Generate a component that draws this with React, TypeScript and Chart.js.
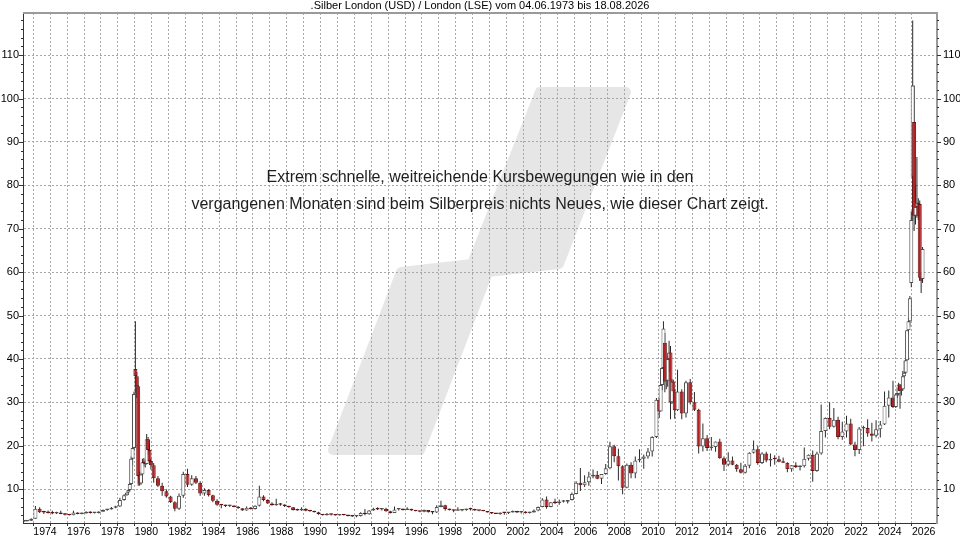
import { useEffect, useRef } from 'react';
import { Chart, registerables } from 'chart.js';

Chart.register(...registerables);

const FONT = '"Liberation Sans", Arial, sans-serif';
const TITLE = '.Silber London (USD) / London (LSE) vom 04.06.1973 bis 18.08.2026';
const NOTE_LINES = [
  'Extrem schnelle, weitreichende Kursbewegungen wie in den',
  'vergangenen Monaten sind beim Silberpreis nichts Neues, wie dieser Chart zeigt.',
];

const periods = [
  '1973-06', '1973-Q3', '1973-Q4',
  '1974-Q1', '1974-Q2', '1974-Q3', '1974-Q4',
  '1975-Q1', '1975-Q2', '1975-Q3', '1975-Q4',
  '1976-Q1', '1976-Q2', '1976-Q3', '1976-Q4',
  '1977-Q1', '1977-Q2', '1977-Q3', '1977-Q4',
  '1978-Q1', '1978-Q2', '1978-Q3', '1978-Q4',
  '1979-Q1', '1979-Q2', '1979-07', '1979-08', '1979-09', '1979-10', '1979-11', '1979-12',
  '1980-01', '1980-02', '1980-03', '1980-04', '1980-05', '1980-06', '1980-07', '1980-08', '1980-09', '1980-10', '1980-11', '1980-12',
  '1981-Q1', '1981-Q2', '1981-Q3', '1981-Q4',
  '1982-Q1', '1982-Q2', '1982-Q3', '1982-Q4',
  '1983-Q1', '1983-Q2', '1983-Q3', '1983-Q4',
  '1984-Q1', '1984-Q2', '1984-Q3', '1984-Q4',
  '1985-Q1', '1985-Q2', '1985-Q3', '1985-Q4',
  '1986-Q1', '1986-Q2', '1986-Q3', '1986-Q4',
  '1987-Q1', '1987-Q2', '1987-Q3', '1987-Q4',
  '1988-Q1', '1988-Q2', '1988-Q3', '1988-Q4',
  '1989-Q1', '1989-Q2', '1989-Q3', '1989-Q4',
  '1990-Q1', '1990-Q2', '1990-Q3', '1990-Q4',
  '1991-Q1', '1991-Q2', '1991-Q3', '1991-Q4',
  '1992-Q1', '1992-Q2', '1992-Q3', '1992-Q4',
  '1993-Q1', '1993-Q2', '1993-Q3', '1993-Q4',
  '1994-Q1', '1994-Q2', '1994-Q3', '1994-Q4',
  '1995-Q1', '1995-Q2', '1995-Q3', '1995-Q4',
  '1996-Q1', '1996-Q2', '1996-Q3', '1996-Q4',
  '1997-Q1', '1997-Q2', '1997-Q3', '1997-Q4',
  '1998-Q1', '1998-Q2', '1998-Q3', '1998-Q4',
  '1999-Q1', '1999-Q2', '1999-Q3', '1999-Q4',
  '2000-Q1', '2000-Q2', '2000-Q3', '2000-Q4',
  '2001-Q1', '2001-Q2', '2001-Q3', '2001-Q4',
  '2002-Q1', '2002-Q2', '2002-Q3', '2002-Q4',
  '2003-Q1', '2003-Q2', '2003-Q3', '2003-Q4',
  '2004-Q1', '2004-Q2', '2004-Q3', '2004-Q4',
  '2005-Q1', '2005-Q2', '2005-Q3', '2005-Q4',
  '2006-Q1', '2006-Q2', '2006-Q3', '2006-Q4',
  '2007-Q1', '2007-Q2', '2007-Q3', '2007-Q4',
  '2008-Q1', '2008-Q2', '2008-Q3', '2008-Q4',
  '2009-Q1', '2009-Q2', '2009-Q3', '2009-Q4',
  '2010-Q1', '2010-Q2', '2010-Q3', '2010-Q4',
  '2011-01', '2011-02', '2011-03', '2011-04', '2011-05', '2011-06', '2011-07', '2011-08', '2011-09', '2011-10', '2011-11', '2011-12',
  '2012-Q1', '2012-Q2', '2012-Q3', '2012-Q4',
  '2013-Q1', '2013-Q2', '2013-Q3', '2013-Q4',
  '2014-Q1', '2014-Q2', '2014-Q3', '2014-Q4',
  '2015-Q1', '2015-Q2', '2015-Q3', '2015-Q4',
  '2016-Q1', '2016-Q2', '2016-Q3', '2016-Q4',
  '2017-Q1', '2017-Q2', '2017-Q3', '2017-Q4',
  '2018-Q1', '2018-Q2', '2018-Q3', '2018-Q4',
  '2019-Q1', '2019-Q2', '2019-Q3', '2019-Q4',
  '2020-Q1', '2020-Q2', '2020-Q3', '2020-Q4',
  '2021-Q1', '2021-Q2', '2021-Q3', '2021-Q4',
  '2022-Q1', '2022-Q2', '2022-Q3', '2022-Q4',
  '2023-Q1', '2023-Q2', '2023-Q3', '2023-Q4',
  '2024-Q1', '2024-Q2', '2024-Q3', '2024-Q4',
  '2025-01', '2025-02', '2025-03', '2025-04', '2025-05', '2025-06', '2025-07', '2025-08', '2025-09', '2025-10', '2025-11', '2025-12',
  '2026-01', '2026-02', '2026-03', '2026-04', '2026-05', '2026-06', '2026-07', '2026-08',
];

const opens = [
  2.55, 2.60, 2.70,
  3.20, 5.50, 4.70, 4.60,
  4.50, 4.40, 4.60, 4.30,
  4.10, 4.00, 4.60, 4.30,
  4.40, 4.80, 4.50, 4.50,
  4.80, 5.20, 5.30, 5.70,
  6.00, 7.50, 8.60, 9.20, 9.80, 11.20, 17.00, 19.50,
  37.70, 36.00, 33.70, 13.00, 11.30, 13.40, 16.20, 16.00, 15.80, 21.50, 19.00, 16.50,
  15.50, 12.50, 10.80, 9.50,
  8.30, 7.00, 5.50, 8.50,
  13.50, 11.00, 12.50, 11.50,
  9.00, 9.80, 8.60, 7.30,
  6.40, 6.30, 6.10, 6.20,
  5.90, 5.60, 5.10, 5.70,
  5.40, 6.20, 8.30, 7.50,
  6.70, 6.30, 6.60, 6.40,
  6.10, 5.80, 5.20, 5.10,
  5.50, 5.00, 4.90, 4.70,
  4.20, 4.00, 4.30, 4.10,
  3.90, 4.10, 4.00, 3.80,
  3.70, 3.80, 4.50, 4.20,
  5.10, 5.50, 5.30, 5.50,
  4.90, 4.50, 5.30, 5.40,
  5.20, 5.50, 5.10, 4.90,
  4.80, 5.20, 4.70, 4.60,
  5.90, 6.30, 5.40, 5.20,
  5.00, 5.10, 5.20, 5.40,
  5.30, 5.10, 5.00, 4.90,
  4.60, 4.40, 4.30, 4.60,
  4.50, 4.60, 4.90, 4.60,
  4.70, 4.50, 4.60, 5.10,
  5.90, 7.60, 5.90, 7.00,
  6.80, 7.10, 7.10, 7.50,
  8.90, 11.50, 10.90, 11.60,
  12.90, 13.30, 12.40, 13.50,
  14.80, 19.90, 17.60, 15.30,
  10.30, 15.60, 13.60, 16.60,
  17.00, 17.50, 18.70, 22.00,
  30.60, 27.90, 34.00, 37.90, 43.70, 34.80, 35.00, 40.00, 41.50, 30.00, 34.80, 32.50,
  28.20, 32.50, 27.40, 34.60,
  30.00, 28.30, 19.80, 21.70,
  19.50, 19.70, 21.00, 17.10,
  15.60, 16.60, 15.60, 14.60,
  13.80, 15.40, 18.40, 19.20,
  16.00, 18.20, 16.60, 17.00,
  16.90, 16.30, 16.10, 14.60,
  15.50, 15.10, 15.30, 17.00,
  17.90, 14.20, 18.20, 23.40,
  26.40, 24.40, 26.00, 22.00,
  23.30, 25.10, 20.30, 19.00,
  24.00, 24.10, 22.80, 22.30,
  23.80, 24.90, 29.20, 31.10,
  28.90, 31.80, 31.90, 34.10, 32.60, 33.00, 36.00, 36.80, 39.70, 46.60, 48.70, 57.50,
  82.00, 94.60, 73.00, 75.00, 76.00, 75.70, 58.70, 58.40,
];

const highs = [
  2.70, 2.85, 3.30,
  6.10, 5.80, 5.00, 5.10,
  5.00, 4.80, 5.00, 4.50,
  4.30, 5.00, 4.70, 4.60,
  4.90, 4.90, 4.60, 4.90,
  5.30, 5.40, 5.90, 6.20,
  8.00, 8.80, 9.30, 10.00, 11.50, 17.50, 19.80, 32.50,
  48.70, 37.00, 34.00, 14.00, 13.60, 17.00, 17.20, 16.80, 22.70, 22.00, 20.70, 17.00,
  16.00, 13.00, 11.50, 10.00,
  8.50, 7.20, 9.00, 14.00,
  14.70, 13.20, 13.00, 11.80,
  10.20, 10.00, 8.70, 7.70,
  6.60, 6.40, 6.40, 6.30,
  6.10, 5.60, 6.00, 5.90,
  6.30, 10.80, 8.60, 7.70,
  7.00, 7.80, 6.80, 6.50,
  6.20, 5.90, 5.50, 5.80,
  5.60, 5.10, 5.00, 4.80,
  4.30, 4.50, 4.40, 4.20,
  4.20, 4.20, 4.00, 3.90,
  3.80, 4.70, 5.40, 5.20,
  5.70, 5.80, 5.60, 5.70,
  5.00, 6.00, 5.50, 5.50,
  5.80, 5.50, 5.20, 5.00,
  5.30, 5.20, 4.80, 6.30,
  7.30, 6.40, 5.50, 5.30,
  5.80, 5.40, 5.50, 5.70,
  5.50, 5.20, 5.10, 4.90,
  4.70, 4.50, 4.60, 4.70,
  4.70, 5.10, 5.00, 4.80,
  4.90, 4.80, 5.30, 6.00,
  7.90, 8.30, 7.00, 7.80,
  7.60, 7.50, 7.50, 9.20,
  11.80, 14.90, 13.20, 14.00,
  14.50, 14.20, 13.50, 15.80,
  20.90, 20.20, 19.30, 15.50,
  15.90, 16.20, 17.50, 19.20,
  18.00, 19.50, 22.20, 31.00,
  31.00, 34.20, 38.10, 48.70, 46.00, 38.50, 40.70, 44.20, 43.00, 35.40, 35.20, 33.00,
  37.50, 33.00, 35.00, 35.40,
  32.40, 28.50, 25.10, 22.50,
  22.00, 21.00, 21.60, 17.50,
  18.50, 17.50, 15.80, 16.10,
  15.80, 18.50, 21.20, 20.00,
  18.50, 18.60, 18.20, 17.80,
  17.70, 17.30, 16.20, 15.50,
  16.20, 15.50, 19.60, 18.00,
  18.90, 18.60, 29.50, 26.50,
  30.00, 28.70, 26.70, 25.50,
  26.90, 26.20, 20.90, 24.30,
  24.60, 26.10, 25.30, 25.90,
  25.70, 32.50, 32.70, 35.00,
  32.00, 33.40, 34.50, 34.20, 33.60, 37.20, 39.50, 39.80, 46.60, 49.50, 54.50, 74.00,
  118.00, 103.00, 80.00, 86.50, 77.00, 76.50, 60.00, 65.80,
];

const lows = [
  2.50, 2.55, 2.65,
  3.20, 4.50, 4.30, 4.40,
  4.20, 4.30, 4.20, 3.90,
  3.90, 4.00, 4.20, 4.20,
  4.40, 4.40, 4.40, 4.40,
  4.80, 5.00, 5.30, 5.60,
  5.90, 7.30, 8.50, 9.10, 9.50, 11.00, 15.50, 19.00,
  32.00, 31.00, 10.80, 10.80, 11.00, 13.20, 15.20, 15.00, 15.70, 18.00, 16.00, 14.50,
  11.50, 10.50, 8.50, 8.00,
  6.80, 4.90, 5.20, 8.00,
  10.50, 10.80, 11.20, 8.50,
  8.50, 8.30, 7.00, 6.20,
  5.60, 5.90, 5.90, 5.80,
  5.50, 5.00, 5.00, 5.30,
  5.30, 6.00, 7.20, 6.60,
  6.20, 6.20, 6.20, 5.90,
  5.70, 5.10, 5.00, 5.00,
  4.90, 4.80, 4.60, 4.10,
  3.90, 3.90, 3.90, 3.90,
  3.90, 3.90, 3.70, 3.60,
  3.50, 3.70, 4.00, 4.10,
  5.00, 5.20, 5.10, 4.80,
  4.40, 4.50, 5.10, 5.10,
  5.20, 5.00, 4.90, 4.70,
  4.70, 4.60, 4.20, 4.50,
  5.80, 5.00, 5.10, 4.70,
  5.00, 4.90, 5.00, 5.10,
  5.00, 4.90, 4.90, 4.60,
  4.30, 4.30, 4.10, 4.10,
  4.30, 4.60, 4.50, 4.40,
  4.40, 4.40, 4.60, 4.90,
  5.80, 5.50, 5.80, 6.60,
  6.40, 6.90, 6.70, 7.40,
  8.80, 9.60, 10.50, 10.80,
  12.50, 12.30, 11.20, 13.30,
  14.60, 16.20, 12.00, 8.80,
  10.20, 12.50, 12.50, 16.20,
  14.70, 17.00, 17.50, 21.80,
  26.40, 27.90, 32.80, 37.70, 32.30, 33.00, 33.60, 37.00, 26.10, 29.60, 30.30, 26.20,
  28.00, 26.10, 26.50, 29.50,
  28.00, 18.20, 18.70, 18.80,
  18.90, 18.60, 17.00, 14.20,
  15.30, 15.50, 14.00, 13.60,
  13.60, 14.80, 18.20, 15.60,
  15.80, 16.20, 15.20, 15.60,
  16.20, 16.00, 13.90, 14.00,
  14.90, 14.30, 15.00, 16.60,
  11.70, 14.00, 17.90, 21.90,
  23.80, 24.20, 21.50, 21.40,
  21.90, 20.10, 17.60, 18.10,
  19.90, 22.10, 21.00, 21.90,
  21.90, 24.80, 26.50, 28.70,
  28.70, 31.00, 31.60, 28.50, 31.60, 32.80, 35.80, 36.50, 39.60, 45.50, 47.50, 56.50,
  72.00, 69.50, 71.00, 72.50, 72.00, 58.00, 55.20, 57.50,
];

const closes = [
  2.60, 2.70, 3.20,
  5.50, 4.70, 4.60, 4.50,
  4.40, 4.60, 4.30, 4.10,
  4.00, 4.60, 4.30, 4.40,
  4.80, 4.50, 4.50, 4.80,
  5.20, 5.30, 5.70, 6.00,
  7.50, 8.60, 9.20, 9.80, 11.20, 17.00, 19.50, 31.90,
  36.00, 33.70, 13.00, 11.30, 13.40, 16.20, 16.00, 15.80, 21.50, 19.00, 16.50, 15.50,
  12.50, 10.80, 9.50, 8.30,
  7.00, 5.50, 8.50, 13.50,
  11.00, 12.50, 11.50, 9.00,
  9.80, 8.60, 7.30, 6.40,
  6.30, 6.10, 6.20, 5.90,
  5.60, 5.10, 5.70, 5.40,
  6.20, 8.30, 7.50, 6.70,
  6.30, 6.60, 6.40, 6.10,
  5.80, 5.20, 5.10, 5.50,
  5.00, 4.90, 4.70, 4.20,
  4.00, 4.30, 4.10, 3.90,
  4.10, 4.00, 3.80, 3.70,
  3.80, 4.50, 4.20, 5.10,
  5.50, 5.30, 5.50, 4.90,
  4.50, 5.30, 5.40, 5.20,
  5.50, 5.10, 4.90, 4.80,
  5.20, 4.70, 4.60, 5.90,
  6.30, 5.40, 5.20, 5.00,
  5.10, 5.20, 5.40, 5.30,
  5.10, 5.00, 4.90, 4.60,
  4.40, 4.30, 4.60, 4.50,
  4.60, 4.90, 4.60, 4.70,
  4.50, 4.60, 5.10, 5.90,
  7.60, 5.90, 7.00, 6.80,
  7.10, 7.10, 7.50, 8.90,
  11.50, 10.90, 11.60, 12.90,
  13.30, 12.40, 13.50, 14.80,
  19.90, 17.60, 15.30, 10.30,
  15.60, 13.60, 16.60, 17.00,
  17.50, 18.70, 22.00, 30.60,
  27.90, 34.00, 37.90, 47.00, 34.80, 35.00, 40.00, 41.50, 30.00, 34.80, 32.50, 28.20,
  32.50, 27.40, 34.60, 30.00,
  28.30, 19.80, 21.70, 19.50,
  19.70, 21.00, 17.10, 15.60,
  16.60, 15.60, 14.60, 13.80,
  15.40, 18.40, 19.20, 16.00,
  18.20, 16.60, 17.00, 16.90,
  16.30, 16.10, 14.60, 15.50,
  15.10, 15.30, 17.00, 17.90,
  14.20, 18.20, 23.40, 26.40,
  24.40, 26.00, 22.00, 23.30,
  25.10, 20.30, 19.00, 24.00,
  24.10, 22.80, 22.30, 23.80,
  24.90, 29.20, 31.10, 28.90,
  31.80, 31.90, 34.10, 32.60, 33.00, 36.00, 36.80, 39.70, 46.60, 48.70, 54.00, 72.00,
  103.00, 73.00, 75.00, 76.00, 73.00, 58.70, 58.00, 65.30,
];

const gridYears = [
  1974, 1975, 1976, 1977, 1978, 1979, 1980, 1981, 1982, 1983, 1984, 1985, 1986, 1987,
  1988, 1989, 1990, 1991, 1992, 1993, 1994, 1995, 1996, 1997, 1998, 1999, 2000, 2001,
  2002, 2003, 2004, 2005, 2006, 2007, 2008, 2009, 2010, 2011, 2012, 2013, 2014, 2015,
  2016, 2017, 2018, 2019, 2020, 2021, 2022, 2023, 2024, 2025, 2026,
];
const labelYears = [
  1974, 1976, 1978, 1980, 1982, 1984, 1986, 1988, 1990, 1992, 1994, 1996, 1998, 2000,
  2002, 2004, 2006, 2008, 2010, 2012, 2014, 2016, 2018, 2020, 2022, 2024, 2026,
];
const yTickValues = [10, 20, 30, 40, 50, 60, 70, 80, 90, 100, 110];

const X_MIN = 1973.39;
const X_MAX = 2027.48;
const Y_MIN = 2.2;
const Y_MAX = 119.7;

function periodToYear(p: string): number {
  const [y, part] = p.split('-');
  const year = Number(y);
  if (part.startsWith('Q')) return year + (Number(part.slice(1)) - 0.5) / 4;
  return year + (Number(part) - 0.5) / 12;
}

function areaWidth(a: any) {
  return a.right - a.left;
}

const decorPlugin = {
  id: 'decor',
  beforeDraw(chart: any) {
    const { ctx, chartArea: a } = chart;
    ctx.save();
    ctx.fillStyle = '#ffffff';
    ctx.fillRect(0, 0, chart.width, chart.height);
    const W = a.right - a.left;
    const H = a.bottom - a.top;
    const shape = [
      [0.3392, 0.8569], [0.4136, 0.5078], [0.4912, 0.4922], [0.5656, 0.1549],
      [0.6597, 0.1549], [0.5864, 0.4922], [0.5088, 0.5078], [0.4344, 0.8569],
    ];
    ctx.beginPath();
    shape.forEach(([fx, fy], i) => {
      const px = a.left + fx * W;
      const py = a.top + fy * H;
      if (i === 0) ctx.moveTo(px, py);
      else ctx.lineTo(px, py);
    });
    ctx.closePath();
    ctx.fillStyle = '#e6e6e6';
    ctx.strokeStyle = '#e6e6e6';
    ctx.lineJoin = 'round';
    ctx.lineWidth = 10;
    ctx.fill();
    ctx.stroke();
    ctx.restore();
  },
  afterDraw(chart: any) {
    const { ctx, chartArea: a } = chart;
    const ys = chart.scales.y;
    ctx.save();
    ctx.strokeStyle = '#333333';
    ctx.lineWidth = 1;
    for (let v = 4; v <= 118; v += 2) {
      const py = Math.round(ys.getPixelForValue(v)) + 0.5;
      const len = v % 10 === 0 ? 4 : 2;
      ctx.beginPath();
      ctx.moveTo(a.left - len, py);
      ctx.lineTo(a.left, py);
      ctx.moveTo(a.right, py);
      ctx.lineTo(a.right + len, py);
      ctx.stroke();
    }
    ctx.strokeStyle = '#9a9a9a';
    ctx.lineWidth = 2;
    ctx.beginPath();
    ctx.moveTo(a.left, a.top);
    ctx.lineTo(a.right + 1, a.top);
    ctx.stroke();
    ctx.fillStyle = '#000000';
    ctx.font = `11px ${FONT}`;
    ctx.textAlign = 'center';
    ctx.textBaseline = 'middle';
    ctx.fillText(TITLE, chart.width / 2, 6);
    ctx.fillStyle = '#1e1e1e';
    ctx.font = `16px ${FONT}`;
    const cx = a.left + areaWidth(a) * 0.5;
    ctx.fillText(NOTE_LINES[0], cx, a.top + (a.bottom - a.top) * 0.322);
    ctx.fillText(NOTE_LINES[1], cx, a.top + (a.bottom - a.top) * 0.375);
    ctx.restore();
  },
};

export default function App() {
  const ref = useRef<HTMLCanvasElement>(null);

  useEffect(() => {
    const xs = periods.map(periodToYear);
    const bodies = xs.map((x, i) => ({
      x,
      y: [Math.min(opens[i], closes[i]), Math.max(opens[i], closes[i])],
    }));
    const wicks = xs.map((x, i) => ({ x, y: [lows[i], highs[i]] }));
    const up = closes.map((c, i) => c >= opens[i]);

    const tickFont = { family: FONT, size: 11 };

    const chart = new Chart(ref.current as HTMLCanvasElement, {
      type: 'bar',
      data: {
        datasets: [
          {
            label: 'Körper',
            data: bodies as any,
            backgroundColor: up.map((u) => (u ? '#ffffff' : '#b81f22')),
            borderColor: up.map((u) => (u ? '#505050' : '#6a1010')),
            borderWidth: 1,
            borderSkipped: false,
            barThickness: 4,
            minBarLength: 1.5,
            inflateAmount: 0,
            stack: 'c',
            order: 0,
          } as any,
          {
            label: 'Docht',
            data: wicks as any,
            backgroundColor: '#2a2a2a',
            borderWidth: 0,
            barThickness: 1,
            inflateAmount: 0,
            stack: 'c',
            order: 1,
          } as any,
        ],
      },
      options: {
        responsive: true,
        maintainAspectRatio: false,
        animation: false,
        layout: { padding: { top: 13, left: 0, right: 0, bottom: 0 } },
        plugins: {
          legend: { display: false },
          tooltip: { enabled: false },
          title: { display: false },
        },
        scales: {
          x: {
            type: 'linear',
            min: X_MIN,
            max: X_MAX,
            offset: false,
            afterBuildTicks: (s: any) => {
              s.ticks = gridYears.map((v) => ({ value: v }));
            },
            afterFit: (s: any) => {
              s.height = 17;
            },
            grid: {
              offset: false,
              color: '#a8a8a8',
              lineWidth: 1,
              drawTicks: true,
              tickLength: 3,
              tickColor: '#333333',
              tickBorderDash: [],
            },
            border: { display: true, color: '#333333', width: 1, dash: [2, 2] },
            ticks: {
              autoSkip: false,
              maxRotation: 0,
              minRotation: 0,
              align: 'start',
              padding: 0,
              color: '#000000',
              font: { family: FONT, size: 10.5 },
              callback: (v: any) => (labelYears.includes(Number(v)) ? String(v) : ''),
            },
          } as any,
          y: {
            type: 'linear',
            position: 'left',
            min: Y_MIN,
            max: Y_MAX,
            stacked: false,
            afterBuildTicks: (s: any) => {
              s.ticks = yTickValues.map((v) => ({ value: v }));
            },
            afterFit: (s: any) => {
              s.width = 23;
            },
            grid: { color: '#a8a8a8', lineWidth: 1, drawTicks: false },
            border: { display: true, color: '#333333', width: 1, dash: [2, 2] },
            ticks: {
              padding: 4,
              color: '#000000',
              font: tickFont,
              callback: (v: any) => String(v),
            },
          } as any,
          y2: {
            type: 'linear',
            position: 'right',
            display: true,
            min: Y_MIN,
            max: Y_MAX,
            afterBuildTicks: (s: any) => {
              s.ticks = yTickValues.map((v) => ({ value: v }));
            },
            afterFit: (s: any) => {
              s.width = 23;
            },
            grid: { drawOnChartArea: false, drawTicks: false },
            border: { display: true, color: '#9a9a9a', width: 2 },
            ticks: {
              padding: 6,
              color: '#000000',
              font: tickFont,
              callback: (v: any) => String(v),
            },
          } as any,
        },
      },
      plugins: [decorPlugin],
    });

    return () => chart.destroy();
  }, []);

  return (
    <div style={{ position: 'absolute', left: 0, top: 0, width: 960, height: 540, background: '#ffffff' }}>
      <canvas ref={ref} />
    </div>
  );
}
